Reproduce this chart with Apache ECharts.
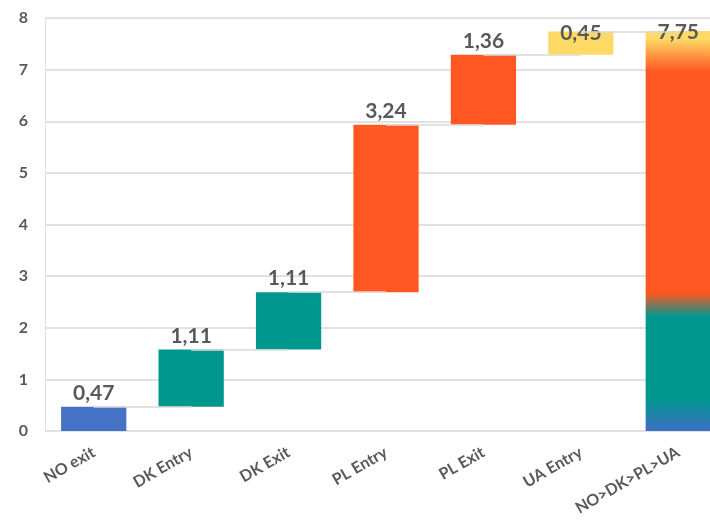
<!DOCTYPE html>
<html><head><meta charset="utf-8">
<script src="https://cdn.jsdelivr.net/npm/echarts@6/dist/echarts.min.js"></script>
<style>html,body{margin:0;padding:0;background:#fff}#c{width:710px;height:530px}</style>
</head><body><div id="c"></div>
<script>
const categories = ['NO exit','DK Entry','DK Exit','PL Entry','PL Exit','UA Entry','NO>DK>PL>UA'];
const steps = [0.47, 1.11, 1.11, 3.24, 1.36, 0.45];
const total = 7.75;
const labels = ['0,47','1,11','1,11','3,24','1,36','0,45','7,75'];
const colors = ['#4472C4','#00978F','#00978F','#FF5722','#FF5722','#FFD966'];

const base = [], vals = [], levels = [];
let cum = 0;
steps.forEach((s) => { base.push(+cum.toFixed(2)); cum += s; vals.push(s); levels.push(+cum.toFixed(2)); });
base.push(0); vals.push(total);

const grad = new echarts.graphic.LinearGradient(0,0,0,1,[
  {offset:0, color:'#FFD966'},
  {offset:0.02, color:'#FFD966'},
  {offset:0.10, color:'#FF5722'},
  {offset:0.655, color:'#FF5722'},
  {offset:0.715, color:'#00978F'},
  {offset:0.92, color:'#00978F'},
  {offset:1, color:'#3F6FC4'}
]);

const valueData = vals.map((v, i) => {
  const item = { value: v, itemStyle: { color: i < 6 ? colors[i] : grad } };
  if (i >= 5) item.label = { position: 'insideTop', distance: -9 };
  return item;
});

const connectors = levels.map((l, i) => [{ coord: [i, l] }, { coord: [i + 1, l] }]);

const chart = echarts.init(document.getElementById('c'));
chart.setOption({
  animation: false,
  grid: { left: 45, top: 18, bottom: 99, width: 682, outerBoundsMode: 'none', containLabel: false },
  xAxis: {
    type: 'category', data: categories,
    axisLine: { show: false }, axisTick: { show: false },
    axisLabel: { rotate: 30, color: '#595959', fontSize: 16, fontFamily: 'Lato', fontWeight: 'bold', margin: 20, interval: 0 }
  },
  yAxis: {
    type: 'value', min: 0, max: 8, interval: 1,
    axisLine: { show: true, lineStyle: { color: '#e0e0e0', width: 1 } },
    axisLabel: { color: '#595959', fontSize: 16, fontWeight: 'bold', fontFamily: 'Lato', margin: 17 },
    splitLine: { lineStyle: { color: '#d9d9d9', width: 1.5 } }
  },
  series: [
    {
      type: 'bar', stack: 'w', data: base, barWidth: '67%',
      itemStyle: { color: 'transparent' }, silent: true, z: 1,
      markLine: {
        symbol: 'none', silent: true, label: { show: false },
        lineStyle: { color: '#d9d9d9', width: 1.5, type: 'solid' },
        data: connectors
      }
    },
    {
      type: 'bar', stack: 'w', data: valueData, z: 3,
      label: {
        show: true, position: 'top', distance: 3,
        color: '#595959', fontSize: 21, fontWeight: 'bold', fontFamily: 'Lato',
        formatter: (p) => labels[p.dataIndex]
      }
    }
  ]
});
</script></body></html>
